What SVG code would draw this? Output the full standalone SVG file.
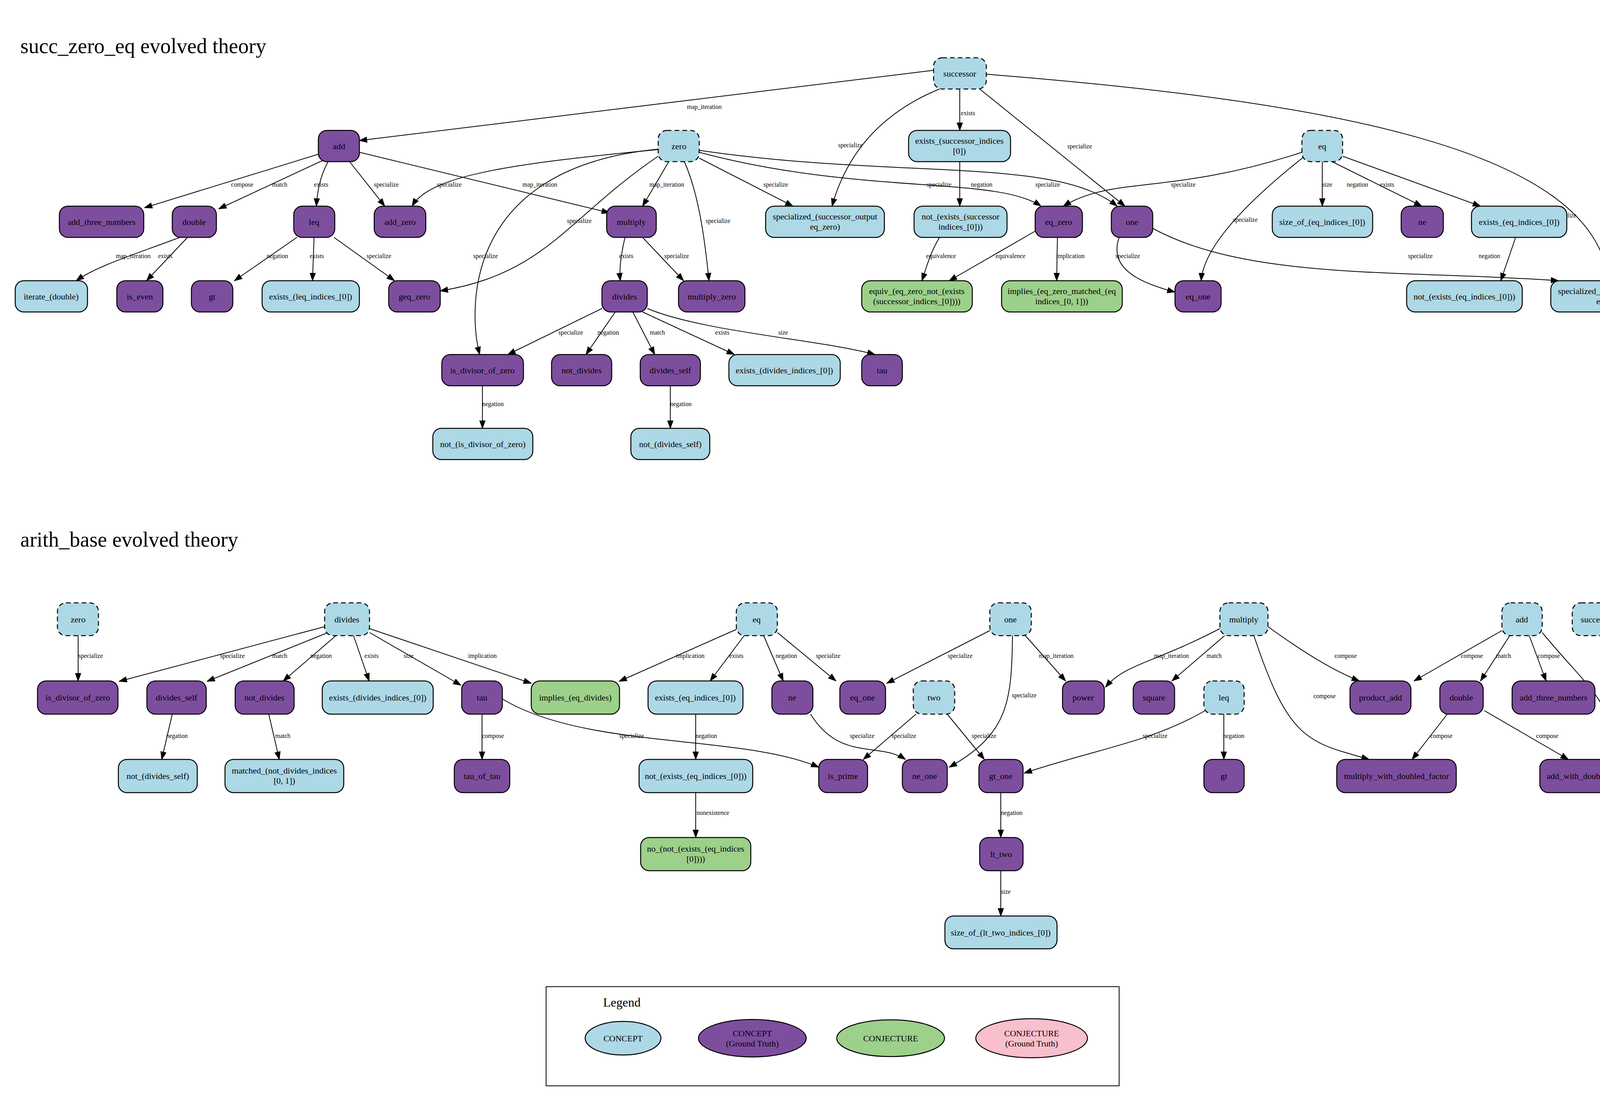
<svg xmlns="http://www.w3.org/2000/svg" width="4283" height="2807" viewBox="0 0 4283 2807">
<defs>
<marker id="ah" markerWidth="22" markerHeight="16" refX="20" refY="8" orient="auto" markerUnits="userSpaceOnUse"><path d="M0,0 L22,8 L0,16 z" fill="#000"/></marker>
<style>
rect{stroke:#000;stroke-width:2.5}
.c{fill:#add8e6}.g{fill:#7e4e9e}.j{fill:#9dd08a}.d{stroke-dasharray:12 8}
text{font-family:"Liberation Serif","Times New Roman",serif;fill:#000}
.t{font-size:22px;text-anchor:middle}
.e{font-size:16px;text-anchor:middle}
#edges path{fill:none;stroke:#000;stroke-width:2;marker-end:url(#ah)}
</style>
</defs>
<rect x="0" y="0" width="4283" height="2807" style="fill:#fff;stroke:none"/>
<text x="52" y="136" font-size="54">succ_zero_eq evolved theory</text>
<text x="52" y="1400" font-size="54">arith_base evolved theory</text>

<g id="edges">
<path d="M2390,180 L920,360"/><text class="e" x="1803" y="279">map_iteration</text>
<path d="M2405,228 C2230,300 2160,420 2130,528"/><text class="e" x="2177" y="377">specialize</text>
<path d="M2457,228 L2457,334"/><text class="e" x="2478" y="295">exists</text>
<path d="M2508,228 L2880,528"/><text class="e" x="2764" y="380">specialize</text>
<path d="M2525,190 C3400,260 4080,380 4118,719"/><text class="e" x="4004" y="557">specialize</text>
<path d="M815,395 L370,532"/><text class="e" x="620" y="478">compose</text>
<path d="M828,410 L560,535"/><text class="e" x="716" y="478">match</text>
<path d="M840,414 C820,450 812,490 810,528"/><text class="e" x="822" y="478">exists</text>
<path d="M895,414 L985,528"/><text class="e" x="989" y="478">specialize</text>
<path d="M920,390 L1560,545"/><text class="e" x="1382" y="478">map_iteration</text>
<path d="M1685,383 C1300,420 1100,450 1055,528"/><text class="e" x="1150" y="478">specialize</text>
<path d="M1685,400 C1450,560 1400,700 1127,745"/><text class="e" x="1483" y="571">specialize</text>
<path d="M1685,382 C1180,430 1200,800 1228,908"/><text class="e" x="1243" y="661">specialize</text>
<path d="M1712,414 L1645,528"/><text class="e" x="1707" y="478">map_iteration</text>
<path d="M1752,414 C1790,500 1805,620 1815,719"/><text class="e" x="1838" y="571">specialize</text>
<path d="M1790,405 L2030,528"/><text class="e" x="1986" y="478">specialize</text>
<path d="M1790,390 C2200,500 2550,450 2665,528"/><text class="e" x="2404" y="478">specialize</text>
<path d="M1790,385 C2300,460 2700,400 2860,528"/><text class="e" x="2682" y="478">specialize</text>
<path d="M2457,414 L2457,528"/><text class="e" x="2513" y="478">negation</text>
<path d="M3333,390 C3000,500 2850,450 2722,528"/><text class="e" x="3029" y="478">specialize</text>
<path d="M3340,400 C3150,550 3080,650 3075,719"/><text class="e" x="3188" y="568">specialize</text>
<path d="M3385,414 L3385,528"/><text class="e" x="3398" y="478">size</text>
<path d="M3410,414 L3640,528"/><text class="e" x="3475" y="478">negation</text>
<path d="M3437,400 L3790,528"/><text class="e" x="3551" y="478">exists</text>
<path d="M460,608 C350,650 250,680 195,719"/><text class="e" x="341" y="661">map_iteration</text>
<path d="M480,608 L375,719"/><text class="e" x="423" y="661">exists</text>
<path d="M760,608 L600,719"/><text class="e" x="710" y="661">negation</text>
<path d="M804,608 L800,719"/><text class="e" x="811" y="661">exists</text>
<path d="M855,608 L1010,719"/><text class="e" x="970" y="661">specialize</text>
<path d="M1600,608 C1590,650 1585,690 1588,719"/><text class="e" x="1603" y="661">exists</text>
<path d="M1645,608 L1750,719"/><text class="e" x="1732" y="661">specialize</text>
<path d="M2405,608 C2380,650 2370,690 2360,719"/><text class="e" x="2409" y="661">equivalence</text>
<path d="M2650,592 L2430,719"/><text class="e" x="2587" y="661">equivalence</text>
<path d="M2707,608 L2705,719"/><text class="e" x="2740" y="661">implication</text>
<path d="M2865,608 C2840,680 2900,720 3008,748"/><text class="e" x="2887" y="661">specialize</text>
<path d="M2951,585 C3200,720 3600,690 3990,719"/><text class="e" x="3636" y="661">specialize</text>
<path d="M3880,608 L3842,719"/><text class="e" x="3813" y="661">negation</text>
<path d="M1541,790 L1300,908"/><text class="e" x="1461" y="857">specialize</text>
<path d="M1575,799 L1500,908"/><text class="e" x="1557" y="857">negation</text>
<path d="M1620,799 L1676,908"/><text class="e" x="1683" y="857">match</text>
<path d="M1645,799 L1880,908"/><text class="e" x="1849" y="857">exists</text>
<path d="M1657,790 C1800,850 2100,870 2240,908"/><text class="e" x="2005" y="857">size</text>
<path d="M1235,988 L1235,1097"/><text class="e" x="1262" y="1040">negation</text>
<path d="M1716,988 L1716,1097"/><text class="e" x="1743" y="1040">negation</text>

<path d="M200,1628 L200,1744"/><text class="e" x="232" y="1685">specialize</text>
<path d="M831,1605 L305,1745"/><text class="e" x="595" y="1685">specialize</text>
<path d="M840,1620 L530,1745"/><text class="e" x="716" y="1685">match</text>
<path d="M860,1628 L725,1744"/><text class="e" x="822" y="1685">negation</text>
<path d="M905,1628 L945,1744"/><text class="e" x="951" y="1685">exists</text>
<path d="M946,1620 L1180,1755"/><text class="e" x="1046" y="1685">size</text>
<path d="M946,1610 L1360,1750"/><text class="e" x="1235" y="1685">implication</text>
<path d="M1885,1612 L1585,1745"/><text class="e" x="1767" y="1685">implication</text>
<path d="M1905,1628 L1818,1744"/><text class="e" x="1885" y="1685">exists</text>
<path d="M1955,1628 L2005,1744"/><text class="e" x="2013" y="1685">negation</text>
<path d="M1990,1620 L2140,1744"/><text class="e" x="2120" y="1685">specialize</text>
<path d="M2534,1615 L2270,1750"/><text class="e" x="2458" y="1685">specialize</text>
<path d="M2625,1628 L2728,1744"/><text class="e" x="2704" y="1685">map_iteration</text>
<path d="M2592,1628 C2590,1800 2580,1880 2430,1965"/><text class="e" x="2622" y="1786">specialize</text>
<path d="M2075,1829 C2150,1950 2250,1900 2318,1945"/><text class="e" x="2207" y="1890">specialize</text>
<path d="M2345,1829 L2210,1945"/><text class="e" x="2314" y="1890">specialize</text>
<path d="M2425,1829 L2520,1945"/><text class="e" x="2519" y="1890">specialize</text>
<path d="M1286,1790 C1500,1920 1900,1880 2096,1965"/><text class="e" x="1617" y="1890">specialize</text>
<path d="M1234,1829 L1234,1945"/><text class="e" x="1262" y="1890">compose</text>
<path d="M441,1829 L414,1945"/><text class="e" x="453" y="1890">negation</text>
<path d="M688,1829 L715,1945"/><text class="e" x="724" y="1890">match</text>
<path d="M1781,1829 L1781,1945"/><text class="e" x="1808" y="1890">negation</text>
<path d="M1781,2030 L1781,2145"/><text class="e" x="1825" y="2087">nonexistence</text>
<path d="M2562,2030 L2562,2145"/><text class="e" x="2590" y="2087">negation</text>
<path d="M2562,2230 L2562,2346"/><text class="e" x="2575" y="2289">size</text>
<path d="M3123,1610 C2950,1700 2880,1700 2830,1760"/><text class="e" x="2999" y="1685">map_iteration</text>
<path d="M3135,1628 L3000,1744"/><text class="e" x="3108" y="1685">match</text>
<path d="M3210,1628 C3300,1900 3350,1900 3505,1945"/><text class="e" x="3391" y="1788">compose</text>
<path d="M3246,1605 C3350,1680 3420,1720 3480,1744"/><text class="e" x="3445" y="1685">compose</text>
<path d="M3845,1615 L3620,1744"/><text class="e" x="3768" y="1685">compose</text>
<path d="M3865,1628 L3790,1744"/><text class="e" x="3849" y="1685">match</text>
<path d="M3915,1628 L3958,1744"/><text class="e" x="3965" y="1685">compose</text>
<path d="M3948,1620 C4080,1780 4140,1800 4115,1945"/><text class="e" x="4163" y="1786">compose</text>
<path d="M3705,1829 L3615,1945"/><text class="e" x="3690" y="1890">compose</text>
<path d="M3800,1820 L4015,1945"/><text class="e" x="3961" y="1890">compose</text>
<path d="M3133,1829 L3133,1945"/><text class="e" x="3158" y="1890">negation</text>
<path d="M3085,1820 C2950,1900 2800,1920 2622,1980"/><text class="e" x="2957" y="1890">specialize</text>
</g>

<g id="t_successor"><rect class="c d" x="2390" y="148" width="135" height="80" rx="22"/><text class="t" x="2457" y="196">successor</text></g>
<g id="t_add"><rect class="g" x="815" y="334" width="105" height="80" rx="22"/><text class="t" x="868" y="382">add</text></g>
<g id="t_zero"><rect class="c d" x="1685" y="334" width="105" height="80" rx="22"/><text class="t" x="1738" y="382">zero</text></g>
<g id="t_exists_succ"><rect class="c" x="2326" y="334" width="261" height="80" rx="22"/><text class="t" x="2456"><tspan x="2456" y="368">exists_(successor_indices</tspan><tspan x="2456" y="394">[0])</tspan></text></g>
<g id="t_eq"><rect class="c d" x="3333" y="334" width="104" height="80" rx="22"/><text class="t" x="3385" y="382">eq</text></g>
<g id="t_add_three"><rect class="g" x="152" y="528" width="216" height="80" rx="22"/><text class="t" x="260" y="576">add_three_numbers</text></g>
<g id="t_double"><rect class="g" x="441" y="528" width="113" height="80" rx="22"/><text class="t" x="497" y="576">double</text></g>
<g id="t_leq"><rect class="g" x="752" y="528" width="105" height="80" rx="22"/><text class="t" x="804" y="576">leq</text></g>
<g id="t_add_zero"><rect class="g" x="958" y="528" width="132" height="80" rx="22"/><text class="t" x="1024" y="576">add_zero</text></g>
<g id="t_multiply"><rect class="g" x="1553" y="528" width="127" height="80" rx="22"/><text class="t" x="1616" y="576">multiply</text></g>
<g id="t_spec_eq_zero"><rect class="c" x="1960" y="528" width="304" height="80" rx="22"/><text class="t"><tspan x="2112" y="562">specialized_(successor_output</tspan><tspan x="2112" y="588">eq_zero)</tspan></text></g>
<g id="t_not_exists_succ"><rect class="c" x="2340" y="528" width="238" height="80" rx="22"/><text class="t"><tspan x="2459" y="562">not_(exists_(successor</tspan><tspan x="2459" y="588">indices_[0]))</tspan></text></g>
<g id="t_eq_zero"><rect class="g" x="2650" y="528" width="121" height="80" rx="22"/><text class="t" x="2710" y="576">eq_zero</text></g>
<g id="t_one"><rect class="g" x="2845" y="528" width="106" height="80" rx="22"/><text class="t" x="2898" y="576">one</text></g>
<g id="t_size_of_eq"><rect class="c" x="3257" y="528" width="257" height="80" rx="22"/><text class="t" x="3385" y="576">size_of_(eq_indices_[0])</text></g>
<g id="t_ne"><rect class="g" x="3587" y="528" width="108" height="80" rx="22"/><text class="t" x="3641" y="576">ne</text></g>
<g id="t_exists_eq"><rect class="c" x="3767" y="528" width="244" height="80" rx="22"/><text class="t" x="3889" y="576">exists_(eq_indices_[0])</text></g>
<g id="t_iterate"><rect class="c" x="39" y="719" width="185" height="80" rx="22"/><text class="t" x="131" y="767">iterate_(double)</text></g>
<g id="t_is_even"><rect class="g" x="299" y="719" width="118" height="80" rx="22"/><text class="t" x="358" y="767">is_even</text></g>
<g id="t_gt"><rect class="g" x="490" y="719" width="106" height="80" rx="22"/><text class="t" x="543" y="767">gt</text></g>
<g id="t_exists_leq"><rect class="c" x="671" y="719" width="249" height="80" rx="22"/><text class="t" x="795" y="767">exists_(leq_indices_[0])</text></g>
<g id="t_geq_zero"><rect class="g" x="995" y="719" width="132" height="80" rx="22"/><text class="t" x="1061" y="767">geq_zero</text></g>
<g id="t_divides"><rect class="g" x="1541" y="719" width="116" height="80" rx="22"/><text class="t" x="1599" y="767">divides</text></g>
<g id="t_multiply_zero"><rect class="g" x="1737" y="719" width="170" height="80" rx="22"/><text class="t" x="1822" y="767">multiply_zero</text></g>
<g id="t_equiv"><rect class="j" x="2206" y="719" width="283" height="80" rx="22"/><text class="t"><tspan x="2347" y="753">equiv_(eq_zero_not_(exists</tspan><tspan x="2347" y="779">(successor_indices_[0])))</tspan></text></g>
<g id="t_implies"><rect class="j" x="2564" y="719" width="309" height="80" rx="22"/><text class="t"><tspan x="2718" y="753">implies_(eq_zero_matched_(eq</tspan><tspan x="2718" y="779">indices_[0, 1]))</tspan></text></g>
<g id="t_eq_one"><rect class="g" x="3008" y="719" width="118" height="80" rx="22"/><text class="t" x="3067" y="767">eq_one</text></g>
<g id="t_not_exists_eq"><rect class="c" x="3601" y="719" width="296" height="80" rx="22"/><text class="t" x="3749" y="767">not_(exists_(eq_indices_[0]))</text></g>
<g id="t_spec_eq_one"><rect class="c" x="3970" y="719" width="305" height="80" rx="22"/><text class="t"><tspan x="4122" y="753">specialized_(successor_output</tspan><tspan x="4122" y="779">eq_one)</tspan></text></g>
<g id="t_is_div_zero"><rect class="g" x="1131" y="908" width="209" height="80" rx="22"/><text class="t" x="1235" y="956">is_divisor_of_zero</text></g>
<g id="t_not_divides"><rect class="g" x="1412" y="908" width="154" height="80" rx="22"/><text class="t" x="1489" y="956">not_divides</text></g>
<g id="t_divides_self"><rect class="g" x="1639" y="908" width="154" height="80" rx="22"/><text class="t" x="1716" y="956">divides_self</text></g>
<g id="t_exists_divides"><rect class="c" x="1866" y="908" width="285" height="80" rx="22"/><text class="t" x="2008" y="956">exists_(divides_indices_[0])</text></g>
<g id="t_tau"><rect class="g" x="2206" y="908" width="104" height="80" rx="22"/><text class="t" x="2258" y="956">tau</text></g>
<g id="t_not_is_div"><rect class="c" x="1108" y="1097" width="256" height="80" rx="22"/><text class="t" x="1236" y="1145">not_(is_divisor_of_zero)</text></g>
<g id="t_not_divides_self"><rect class="c" x="1615" y="1097" width="202" height="80" rx="22"/><text class="t" x="1716" y="1145">not_(divides_self)</text></g>

<g id="b_zero"><rect class="c d" x="147" y="1544" width="105" height="84" rx="22"/><text class="t" x="200" y="1594">zero</text></g>
<g id="b_divides"><rect class="c d" x="831" y="1544" width="115" height="84" rx="22"/><text class="t" x="888" y="1594">divides</text></g>
<g id="b_eq"><rect class="c d" x="1885" y="1544" width="105" height="84" rx="22"/><text class="t" x="1937" y="1594">eq</text></g>
<g id="b_one"><rect class="c d" x="2534" y="1544" width="106" height="84" rx="22"/><text class="t" x="2587" y="1594">one</text></g>
<g id="b_multiply"><rect class="c d" x="3123" y="1544" width="123" height="84" rx="22"/><text class="t" x="3184" y="1594">multiply</text></g>
<g id="b_add"><rect class="c d" x="3845" y="1544" width="103" height="84" rx="22"/><text class="t" x="3896" y="1594">add</text></g>
<g id="b_successor"><rect class="c d" x="4025" y="1544" width="129" height="84" rx="22"/><text class="t" x="4089" y="1594">successor</text></g>
<g id="b_is_div_zero"><rect class="g" x="96" y="1744" width="206" height="85" rx="22"/><text class="t" x="199" y="1794">is_divisor_of_zero</text></g>
<g id="b_divides_self"><rect class="g" x="376" y="1744" width="152" height="85" rx="22"/><text class="t" x="452" y="1794">divides_self</text></g>
<g id="b_not_divides"><rect class="g" x="602" y="1744" width="151" height="85" rx="22"/><text class="t" x="677" y="1794">not_divides</text></g>
<g id="b_exists_divides"><rect class="c" x="825" y="1744" width="284" height="85" rx="22"/><text class="t" x="967" y="1794">exists_(divides_indices_[0])</text></g>
<g id="b_tau"><rect class="g" x="1182" y="1744" width="104" height="85" rx="22"/><text class="t" x="1234" y="1794">tau</text></g>
<g id="b_implies"><rect class="j" x="1360" y="1744" width="226" height="85" rx="22"/><text class="t" x="1473" y="1794">implies_(eq_divides)</text></g>
<g id="b_exists_eq"><rect class="c" x="1659" y="1744" width="243" height="85" rx="22"/><text class="t" x="1780" y="1794">exists_(eq_indices_[0])</text></g>
<g id="b_ne"><rect class="g" x="1976" y="1744" width="105" height="85" rx="22"/><text class="t" x="2028" y="1794">ne</text></g>
<g id="b_eq_one"><rect class="g" x="2150" y="1744" width="117" height="85" rx="22"/><text class="t" x="2208" y="1794">eq_one</text></g>
<g id="b_two"><rect class="c d" x="2338" y="1744" width="106" height="85" rx="22"/><text class="t" x="2391" y="1794">two</text></g>
<g id="b_power"><rect class="g" x="2720" y="1744" width="107" height="85" rx="22"/><text class="t" x="2773" y="1794">power</text></g>
<g id="b_square"><rect class="g" x="2901" y="1744" width="106" height="85" rx="22"/><text class="t" x="2954" y="1794">square</text></g>
<g id="b_leq"><rect class="c d" x="3082" y="1744" width="103" height="85" rx="22"/><text class="t" x="3133" y="1794">leq</text></g>
<g id="b_product_add"><rect class="g" x="3456" y="1744" width="156" height="85" rx="22"/><text class="t" x="3534" y="1794">product_add</text></g>
<g id="b_double"><rect class="g" x="3686" y="1744" width="111" height="85" rx="22"/><text class="t" x="3741" y="1794">double</text></g>
<g id="b_add_three"><rect class="g" x="3871" y="1744" width="212" height="85" rx="22"/><text class="t" x="3977" y="1794">add_three_numbers</text></g>
<g id="b_not_divides_self"><rect class="c" x="303" y="1945" width="202" height="85" rx="22"/><text class="t" x="404" y="1995">not_(divides_self)</text></g>
<g id="b_matched"><rect class="c" x="576" y="1945" width="304" height="85" rx="22"/><text class="t"><tspan x="728" y="1981">matched_(not_divides_indices</tspan><tspan x="728" y="2007">[0, 1])</tspan></text></g>
<g id="b_tau_of_tau"><rect class="g" x="1163" y="1945" width="142" height="85" rx="22"/><text class="t" x="1234" y="1995">tau_of_tau</text></g>
<g id="b_not_exists_eq"><rect class="c" x="1636" y="1945" width="291" height="85" rx="22"/><text class="t" x="1781" y="1995">not_(exists_(eq_indices_[0]))</text></g>
<g id="b_is_prime"><rect class="g" x="2096" y="1945" width="125" height="85" rx="22"/><text class="t" x="2158" y="1995">is_prime</text></g>
<g id="b_ne_one"><rect class="g" x="2310" y="1945" width="115" height="85" rx="22"/><text class="t" x="2367" y="1995">ne_one</text></g>
<g id="b_gt_one"><rect class="g" x="2506" y="1945" width="113" height="85" rx="22"/><text class="t" x="2562" y="1995">gt_one</text></g>
<g id="b_gt"><rect class="g" x="3082" y="1945" width="103" height="85" rx="22"/><text class="t" x="3133" y="1995">gt</text></g>
<g id="b_mwdf"><rect class="g" x="3422" y="1945" width="306" height="85" rx="22"/><text class="t" x="3575" y="1995">multiply_with_doubled_factor</text></g>
<g id="b_awds"><rect class="g" x="3942" y="1945" width="296" height="85" rx="22"/><text class="t" x="4090" y="1995">add_with_doubled_summand</text></g>
<g id="b_no"><rect class="j" x="1640" y="2145" width="282" height="85" rx="22"/><text class="t"><tspan x="1781" y="2181">no_(not_(exists_(eq_indices</tspan><tspan x="1781" y="2207">[0])))</tspan></text></g>
<g id="b_lt_two"><rect class="g" x="2508" y="2145" width="111" height="85" rx="22"/><text class="t" x="2563" y="2195">lt_two</text></g>
<g id="b_size_of_lt"><rect class="c" x="2419" y="2346" width="287" height="84" rx="22"/><text class="t" x="2562" y="2396">size_of_(lt_two_indices_[0])</text></g>

<g id="legend">
<rect x="1398" y="2527" width="1467" height="254" style="fill:#fff;stroke:#000;stroke-width:2"/>
<text x="1592" y="2578" font-size="32" text-anchor="middle">Legend</text>
<ellipse cx="1595" cy="2659" rx="97" ry="43" fill="#add8e6" stroke="#000" stroke-width="2.5"/>
<text class="t" x="1595" y="2667">CONCEPT</text>
<ellipse cx="1926" cy="2659" rx="138" ry="48" fill="#7e4e9e" stroke="#000" stroke-width="2.5"/>
<text class="t" x="1926" y="2654" fill="#333">CONCEPT</text><text class="t" x="1926" y="2680" fill="#333">(Ground Truth)</text>
<ellipse cx="2280" cy="2659" rx="138" ry="47" fill="#9dd08a" stroke="#000" stroke-width="2.5"/>
<text class="t" x="2280" y="2667">CONJECTURE</text>
<ellipse cx="2641" cy="2659" rx="143" ry="50" fill="#f8bfcc" stroke="#000" stroke-width="2.5"/>
<text class="t" x="2641" y="2654" fill="#555">CONJECTURE</text><text class="t" x="2641" y="2680" fill="#555">(Ground Truth)</text>
</g>
</svg>
